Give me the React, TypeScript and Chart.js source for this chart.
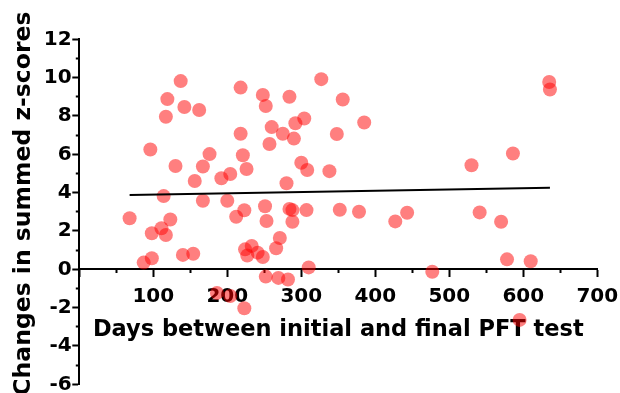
import React, { useEffect, useRef } from "react";
import { Chart, registerables } from "chart.js";

Chart.register(...registerables);

const days: number[] = [
  68, 87, 98, 98, 111, 117, 123, 114, 96, 117, 119, 137, 142, 162, 130, 167, 176, 156, 192, 204,
  140, 154, 167, 200, 212, 223, 218, 218, 221, 226, 248, 252, 260, 257, 275, 284, 292, 304, 290, 300,
  308, 280, 327, 356, 385, 348, 338, 251, 253, 284, 288, 288, 307, 352, 378, 427, 443, 530, 586, 635,
  636, 541, 570, 578, 610, 595, 477, 310, 224, 233, 241, 248, 227, 271, 266, 252, 269, 282, 186, 204,
  223,
];
const zChanges: number[] = [
  2.66, 0.35, 0.58, 1.88, 2.14, 1.79, 2.6, 3.82, 6.25, 7.96, 8.88, 9.82, 8.47, 8.31, 5.39, 5.36, 6.01, 4.61, 4.75, 4.97,
  0.75, 0.81, 3.58, 3.58, 2.74, 3.08, 9.48, 7.07, 5.95, 5.23, 9.1, 8.52, 7.42, 6.54, 7.07, 9.0, 7.62, 7.87, 6.82, 5.56,
  5.18, 4.49, 9.92, 8.86, 7.66, 7.06, 5.12, 3.29, 2.52, 3.15, 3.09, 2.48, 3.09, 3.11, 3.0, 2.5, 2.95, 5.43, 6.04, 9.77,
  9.38, 2.97, 2.48, 0.52, 0.42, -2.64, -0.13, 0.1, 1.04, 1.22, 0.87, 0.64, 0.72, 1.63, 1.1, -0.38, -0.45, -0.53, -1.23, -1.39,
  -2.03,
];
const fitX: number[] = [68, 636];
const fitY: number[] = [3.88, 4.26];

const xTitle = "Days between initial and final PFT test";
const yTitle = "  Changes in summed z-scores";
const FONT = "'DejaVu Sans', sans-serif";

export default function App() {
  const ref = useRef<HTMLCanvasElement | null>(null);
  useEffect(() => {
    if (!ref.current) return;
    const chart = new Chart(ref.current, {
      type: "scatter",
      data: {
        datasets: [
          {
            type: "line",
            data: fitX.map((x, i) => ({ x, y: fitY[i] })),
            borderColor: "#000",
            borderWidth: 2,
            pointRadius: 0,
            fill: false,
            order: 0,
          } as any,
          {
            data: days.map((x, i) => ({ x, y: zChanges[i] })),
            backgroundColor: "rgba(255,0,0,0.5)",
            borderWidth: 0,
            pointRadius: 7,
            order: 1,
          },
        ],
      },
      options: {
        responsive: false,
        animation: false,
        devicePixelRatio: 1,
        layout: { padding: { left: 0, right: 0, top: 39.3, bottom: 8.7 } },
        plugins: { legend: { display: false }, tooltip: { enabled: false } },
        scales: {
          x: {
            type: "linear",
            position: { y: 0 } as any,
            min: 0,
            max: 700,
            border: { display: true, color: "#000", width: 2 },
            grid: {
              display: true,
              drawOnChartArea: false,
              drawTicks: true,
              tickLength: 7,
              tickWidth: 2,
              tickColor: "#000",
              tickBorderDash: (ctx: any) => (ctx.tick && ctx.tick.value % 100 === 0 ? [] : [3, 100]),
            } as any,
            ticks: {
              stepSize: 50,
              autoSkip: false,
              maxRotation: 0,
              padding: 8.5,
              color: "#000",
              font: { family: FONT, size: 20, weight: "bold" },
              callback: (v: any) => (Number(v) % 100 === 0 && Number(v) !== 0 ? String(v) : ""),
            },
            title: {
              display: true,
              text: xTitle,
              color: "#000",
              font: { family: FONT, size: 22.5, weight: "bold" },
              padding: { top: 0, bottom: 0 },
            },
            afterFit: (scale: any) => {
              scale.height = 74.7;
              scale.paddingLeft = 0;
              scale.paddingRight = 22.7;
            },
          },
          y: {
            type: "linear",
            position: "left",
            min: -6,
            max: 12,
            border: { display: true, color: "#000", width: 2 },
            grid: {
              display: true,
              drawOnChartArea: false,
              drawTicks: true,
              tickLength: 7,
              tickWidth: 2,
              tickColor: "#000",
              tickBorderDash: (ctx: any) => (ctx.tick && ctx.tick.value % 2 === 0 ? [] : [0, 3.5, 10, 0]),
            } as any,
            ticks: {
              stepSize: 1,
              autoSkip: false,
              padding: 0.6,
              color: "#000",
              font: { family: FONT, size: 20, weight: "bold" },
              callback: (v: any) => (Number(v) % 2 === 0 ? String(v) : ""),
            },
            title: {
              display: true,
              text: yTitle,
              color: "#000",
              font: { family: FONT, size: 23.5, weight: "bold" },
              padding: { top: 9.5, bottom: 0 },
            },
            afterFit: (scale: any) => {
              scale.width = 79.3;
              scale.paddingTop = 0;
              scale.paddingBottom = 0;
            },
          },
        },
      },
    });
    return () => chart.destroy();
  }, []);
  return (
    <div style={{ position: "absolute", left: 0, top: 0, width: 620, height: 393, background: "#fff" }}>
      <canvas ref={ref} width={620} height={393} style={{ display: "block", width: 620, height: 393 }} />
    </div>
  );
}
